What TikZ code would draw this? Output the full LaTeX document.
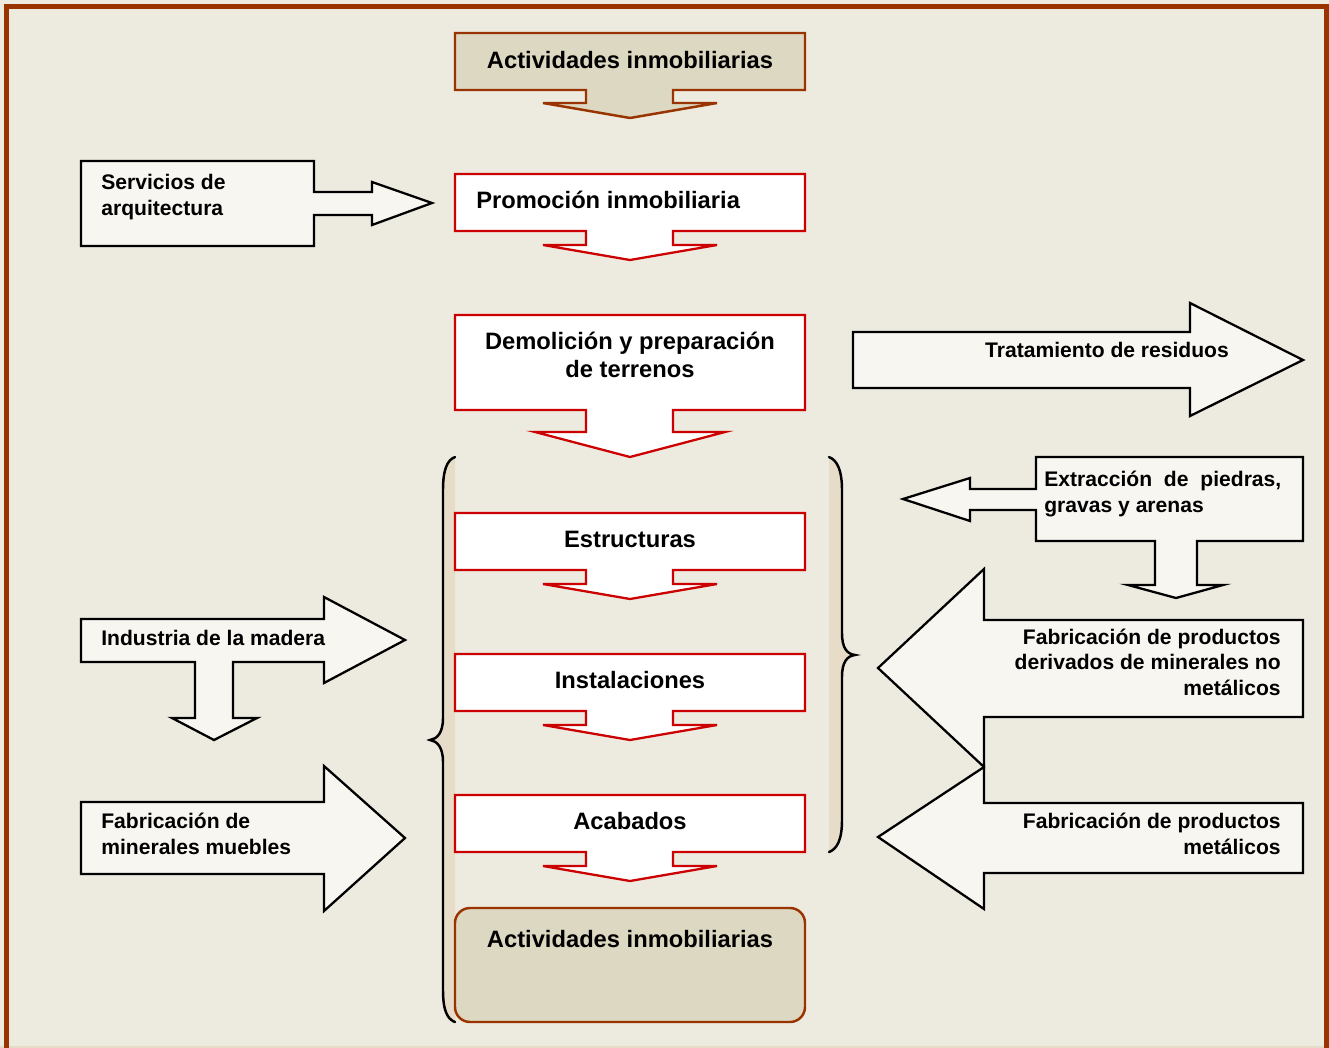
\documentclass[tikz,border=0pt]{standalone}
\usepackage{fontspec}
\setmainfont{Liberation Sans}
\usepackage{xcolor}
\definecolor{bgbeige}{HTML}{EDEADF}
\definecolor{framebrown}{HTML}{993300}
\definecolor{boxtan}{HTML}{DDD8C2}
\definecolor{boxred}{HTML}{CC0000}
\definecolor{sidefill}{HTML}{F8F6F1}
\definecolor{bracetan}{HTML}{E6DCC8}

\begin{document}
\begin{tikzpicture}[
    x=0.02cm, y=-0.02cm,
    maintext/.style={font=\bfseries\fontsize{13.5}{15.9}\selectfont, inner sep=0pt, align=center},
    sidetext/.style={font=\bfseries\fontsize{12}{14.5}\selectfont, inner sep=0pt},
    redbox/.style={draw=boxred, fill=white, line width=1.3pt},
    tanbox/.style={draw=framebrown, fill=boxtan, line width=1.4pt},
    sidebox/.style={draw=black, fill=sidefill, line width=1.3pt},
    bracefill/.style={fill=bracetan},
    braceline/.style={draw=black, line width=1.4pt, line cap=round}
]
\useasboundingbox (0,0) rectangle (1329,1048);
\fill[bgbeige] (0,0) rectangle (1329,1048);
\draw[bracetan, line width=0.8pt] (0,1047) -- (1329,1047);
\draw[framebrown, line width=0.1cm] (6.5,1048) -- (6.5,6.5) -- (1326.5,6.5) -- (1326.5,1048);

% braces
\fill[bracefill] (455,457) .. controls (447,460) and (443,470) .. (443,490) -- (443,718) .. controls (443,733) and (437,739) .. (430,740) .. controls (437,741) and (443,747) .. (443,762) -- (443,990) .. controls (443,1010) and (447,1019) .. (455,1022) -- cycle;
\draw[braceline] (455,457) .. controls (447,460) and (443,470) .. (443,490) -- (443,718) .. controls (443,733) and (437,739) .. (430,740) .. controls (437,741) and (443,747) .. (443,762) -- (443,990) .. controls (443,1010) and (447,1019) .. (455,1022);
\fill[bracefill] (829,457) .. controls (837,460) and (842,470) .. (842,490) -- (842,633) .. controls (842,648) and (847,654) .. (855,655) .. controls (847,656) and (842,662) .. (842,677) -- (842,820) .. controls (842,840) and (837,849) .. (829,852) -- cycle;
\draw[braceline] (829,457) .. controls (837,460) and (842,470) .. (842,490) -- (842,633) .. controls (842,648) and (847,654) .. (855,655) .. controls (847,656) and (842,662) .. (842,677) -- (842,820) .. controls (842,840) and (837,849) .. (829,852);

% central column
\filldraw[tanbox] (455,33) -- (805,33) -- (805,90) -- (673,90) -- (673,103) -- (717,103) -- (630,118) -- (543,103) -- (586,103) -- (586,90) -- (455,90) -- cycle;
\node[maintext] (topact) at (630,60) {Actividades inmobiliarias};

\filldraw[redbox] (455,174) -- (805,174) -- (805,231) -- (673,231) -- (673,245) -- (717,245) -- (630,260) -- (543,245) -- (586,245) -- (586,231) -- (455,231) -- cycle;
\node[maintext, anchor=west] (promo) at (476,200) {Promoción inmobiliaria};

\filldraw[redbox] (455,315) -- (805,315) -- (805,410) -- (673,410) -- (673,432) -- (725,432) -- (630,457) -- (535,432) -- (586,432) -- (586,410) -- (455,410) -- cycle;
\node[maintext] (demol) at (630,355) {Demolición y preparación\\de terrenos};

\foreach \ytop/\name/\txt in {513/estr/Estructuras, 654/inst/Instalaciones, 795/acab/Acabados} {
  \filldraw[redbox] (455,\ytop) -- (805,\ytop) -- (805,\ytop+57) -- (673,\ytop+57) -- (673,\ytop+71) -- (717,\ytop+71) -- (630,\ytop+86) -- (543,\ytop+71) -- (586,\ytop+71) -- (586,\ytop+57) -- (455,\ytop+57) -- cycle;
  \node[maintext] (\name) at (630,\ytop+26) {\txt};
}

\filldraw[tanbox, rounded corners=0.3cm] (455,908) rectangle (805,1022);
\node[maintext] (botact) at (630,939) {Actividades inmobiliarias};

% left side
\filldraw[sidebox] (81,161) -- (314,161) -- (314,192) -- (372,192) -- (372,182) -- (432,203) -- (372,225) -- (372,215) -- (314,215) -- (314,246) -- (81,246) -- cycle;
\node[sidetext, anchor=west, align=left] (serv) at (101,197) {Servicios de\\arquitectura};

\filldraw[sidebox] (81,619) -- (324,619) -- (324,597) -- (405,640) -- (324,683) -- (324,662) -- (233,662) -- (233,718) -- (257,718) -- (214,740) -- (172,718) -- (195,718) -- (195,662) -- (81,662) -- cycle;
\node[sidetext, anchor=west] (madera) at (101,638) {Industria de la madera};

\filldraw[sidebox] (81,802) -- (324,802) -- (324,766) -- (405,838) -- (324,911) -- (324,874) -- (81,874) -- cycle;
\node[sidetext, anchor=west, align=left] (muebles) at (101,834) {Fabricación de\\minerales muebles};

% right side
\filldraw[sidebox] (853,332) -- (1190,332) -- (1190,303) -- (1303,360) -- (1190,416) -- (1190,388) -- (853,388) -- cycle;
\node[sidetext] (residuos) at (1107,350) {Tratamiento de residuos};

\filldraw[sidebox] (1036,457) -- (1303,457) -- (1303,541) -- (1197,541) -- (1197,585) -- (1223,585) -- (1176,598) -- (1128,585) -- (1155,585) -- (1155,541) -- (1036,541) -- (1036,510) -- (970,510) -- (970,521) -- (903,499) -- (970,478) -- (970,489) -- (1036,489) -- cycle;
\node[sidetext, anchor=west, text width=4.74cm, align=justify] (extrac) at (1044,494) {Extracción de piedras, gravas y arenas};

\filldraw[sidebox] (984,620) -- (1303,620) -- (1303,717) -- (984,717) -- (984,767) -- (878,668) -- (984,569) -- cycle;
\node[sidetext, anchor=east, align=right] (nometal) at (1281,662) {Fabricación de productos\\derivados de minerales no\\metálicos};

\filldraw[sidebox] (984,803) -- (1303,803) -- (1303,873) -- (984,873) -- (984,909) -- (878,837) -- (984,767) -- cycle;
\node[sidetext, anchor=east, align=right] (metal) at (1281,834) {Fabricación de productos\\metálicos};
\end{tikzpicture}
\end{document}
